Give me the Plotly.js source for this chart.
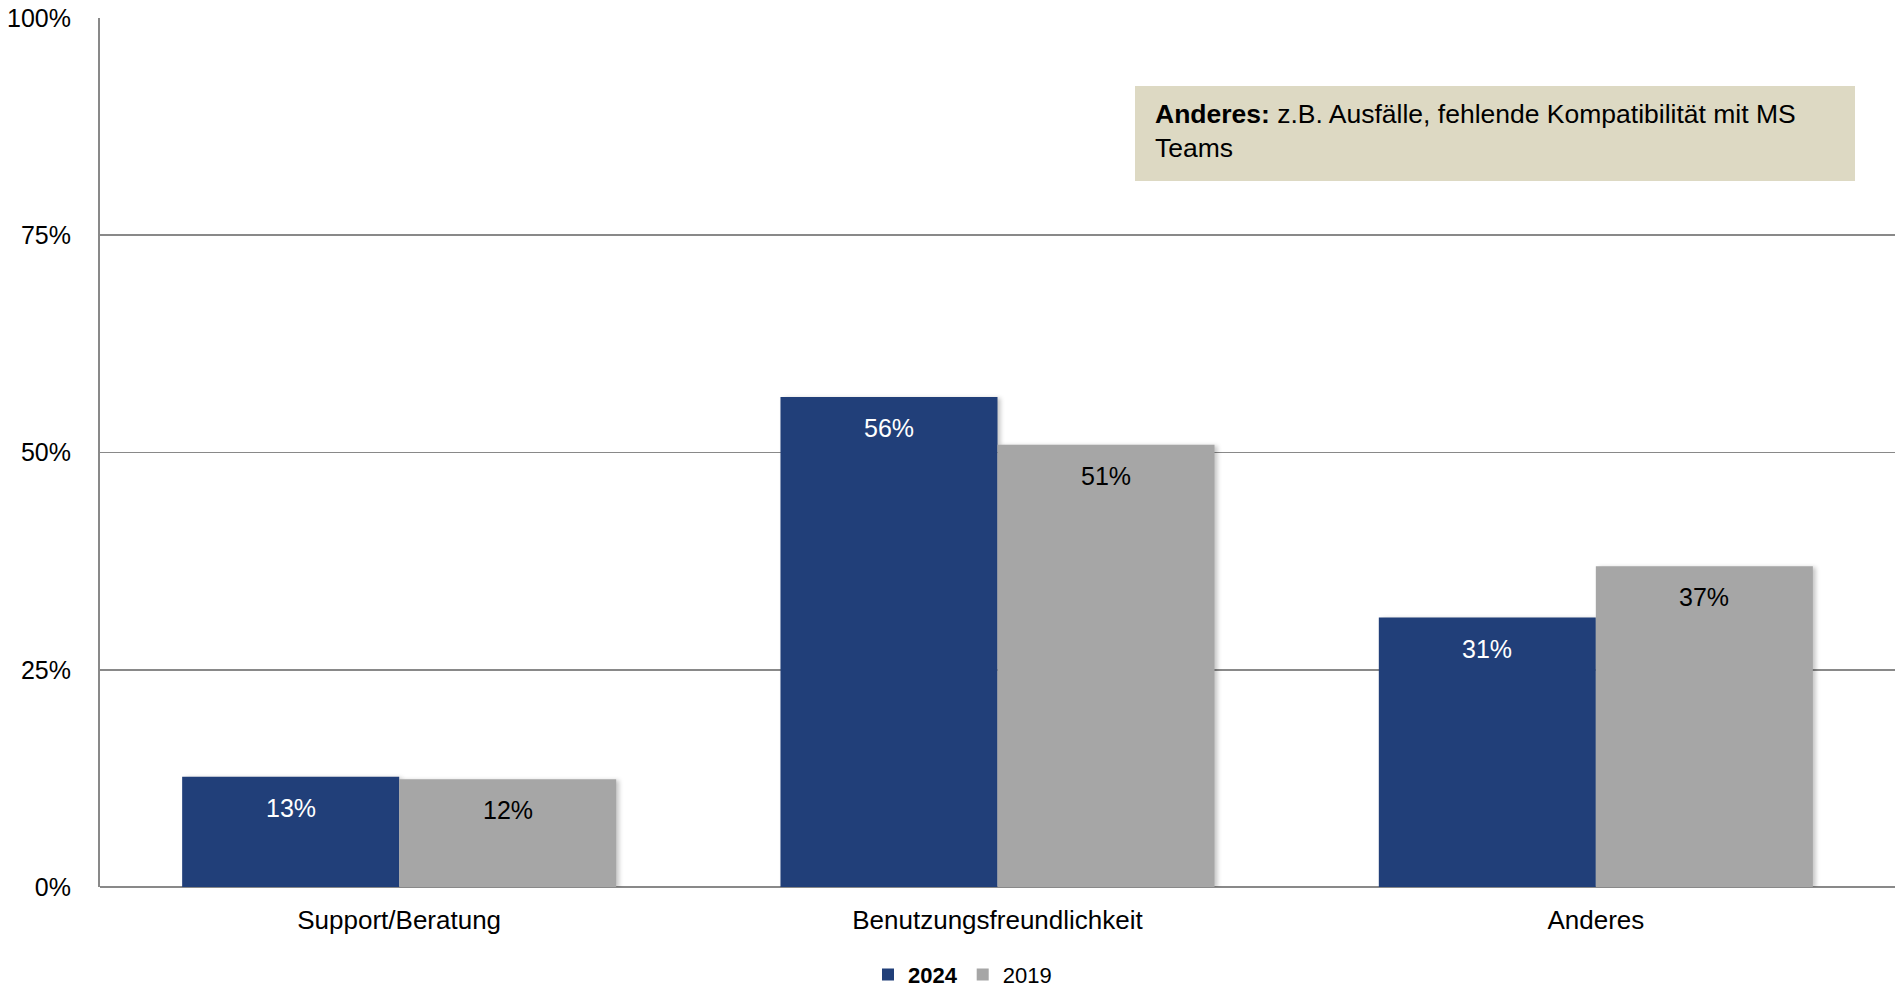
<!DOCTYPE html>
<html>
<head>
<meta charset="utf-8">
<script src="https://cdn.plot.ly/plotly-3.0.1.min.js"></script>
<style>
  html, body { margin: 0; padding: 0; background: #ffffff; }
  #chart { width: 1900px; height: 987px; }
  .trace.bars .point path { filter: drop-shadow(3px 1px 2px rgba(0,0,0,0.22)); }
</style>
</head>
<body>
<div id="chart"></div>
<script>
// Reasons / categories on the x axis
const categories = ['Support/Beratung', 'Benutzungsfreundlichkeit', 'Anderes'];

// Share of respondents per survey year (percent)
const values2024 = [12.7, 56.4, 31.0];
const values2019 = [12.4, 50.9, 36.9];

const seriesNames = ['<b>2024</b>', '2019'];
const seriesColors = ['#213F79', '#A6A6A6'];
const labelColors = ['#FFFFFF', '#000000'];

const yTickValues = [0, 25, 50, 75, 100];
const yTickLabels = ['0%', '25%', '50%', '75%', '100%'];

const noteText = '<b>Anderes:</b> z.B. Ausfälle, fehlende Kompatibilität mit MS<br>Teams';

const FONT = 'Liberation Sans, Arial, sans-serif';
const series = [values2024, values2019];

const traces = series.map((vals, i) => ({
  type: 'bar',
  name: seriesNames[i],
  x: categories,
  y: vals,
  marker: { color: seriesColors[i], line: { width: 0 } },
  hoverinfo: 'none'
}));

// Value labels sitting inside the top of each bar
const plotWidth = 1795;
const groupWidth = plotWidth / categories.length;
const bargap = 0.2746;
const barWidthPx = groupWidth * (1 - bargap) / series.length;
const annotations = [];
series.forEach((vals, i) => {
  vals.forEach((v, j) => {
    annotations.push({
      x: categories[j], y: v, xref: 'x', yref: 'y',
      xshift: (i - (series.length - 1) / 2) * barWidthPx,
      yshift: -31,
      yanchor: 'middle', xanchor: 'center',
      text: Math.round(v) + '%',
      showarrow: false,
      font: { family: FONT, size: 25, color: labelColors[i] }
    });
  });
});

// Note box text
annotations.push({
  xref: 'paper', yref: 'paper',
  x: (1153 - 100) / plotWidth, y: (887 - 97) / 869,
  xanchor: 'left', yanchor: 'top', align: 'left',
  text: noteText, showarrow: false,
  font: { family: FONT, size: 26.5, color: '#000000' }
});

const layout = {
  width: 1900, height: 987,
  margin: { l: 100, r: 5, t: 18, b: 100, autoexpand: false },
  paper_bgcolor: '#ffffff', plot_bgcolor: '#ffffff',
  barmode: 'group', bargap: bargap, bargroupgap: 0,
  showlegend: true,
  legend: {
    orientation: 'h', x: 0.4805, xanchor: 'center', y: -0.101, yanchor: 'middle',
    font: { family: FONT, size: 22, color: '#000000' },
    itemwidth: 30, traceorder: 'normal'
  },
  xaxis: {
    type: 'category', automargin: false,
    showline: false, showgrid: false, zeroline: false,
    ticks: '', ticklabelstandoff: 15,
    tickfont: { family: FONT, size: 26, color: '#000000' }
  },
  yaxis: {
    range: [0, 100], fixedrange: true, automargin: false,
    tickvals: yTickValues, ticktext: yTickLabels,
    showgrid: true, gridcolor: '#898989', gridwidth: 1.6,
    showline: true, linecolor: '#898989', linewidth: 2,
    zeroline: true, zerolinecolor: '#898989', zerolinewidth: 2,
    ticks: '', ticklabelstandoff: 22,
    tickfont: { family: FONT, size: 25, color: '#000000' }
  },
  shapes: [{
    type: 'rect', xref: 'paper', yref: 'paper', layer: 'above',
    x0: (1135 - 100) / plotWidth, x1: (1855 - 100) / plotWidth,
    y0: (887 - 181) / 869, y1: (887 - 86) / 869,
    fillcolor: '#DDD9C3', line: { width: 0 }
  }],
  annotations: annotations
};

Plotly.newPlot('chart', traces, layout, { displayModeBar: false, staticPlot: true });
</script>
</body>
</html>
